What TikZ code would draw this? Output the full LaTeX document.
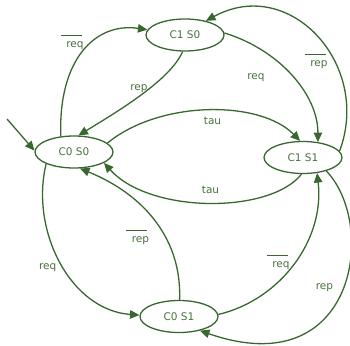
\documentclass[tikz,border=0pt]{standalone}
\usepackage{fontspec}
\setmainfont{DejaVu Sans}
\usetikzlibrary{arrows.meta,shapes.geometric}
\definecolor{ln}{RGB}{56,104,48}
\definecolor{tx}{RGB}{72,112,62}
\newcommand{\ovl}[1]{\leavevmode\rlap{\kern-5.5pt\smash{\raisebox{11.5pt}{\color{ln}\rule{21pt}{1pt}}}}#1}
\begin{document}
\begin{tikzpicture}[x=1pt,y=-1pt,
  state/.style={ellipse,draw=ln,line width=1.3pt,minimum width=78pt,minimum height=32pt,inner sep=0pt,text=tx,font=\fontsize{10.5}{12}\selectfont},
  edge/.style={draw=ln,line width=1.3pt,-{Triangle[length=9.5pt,width=8.5pt]}},
  lbl/.style={anchor=base,inner sep=0pt,text=tx,font=\fontsize{10.5}{12}\selectfont}]
\useasboundingbox (0,0) rectangle (350,345);
\node[state] (c0s0) at (74,152) {C0 S0};
\node[state] (c1s0) at (185,35) {C1 S0};
\node[state] (c1s1) at (303,157.5) {C1 S1};
\node[state] (c0s1) at (179,316.5) {C0 S1};
\coordinate (init) at (7,119);
\draw[edge] (init) -- (c0s0.178);
\draw[edge] (c0s0.130) .. controls (58,60) and (95,22) .. (c1s0.172);
\draw[edge] (c1s0.262) .. controls (170,80) and (120,110) .. (c0s0.75);
\draw[edge] (c1s0.3) .. controls (280,50) and (318,95) .. (c1s1.46);
\draw[edge] (c1s1.10) .. controls (372,65) and (290,-25) .. (c1s0.34);
\draw[edge] (c0s0.15) .. controls (160,100) and (260,100) .. (c1s1.100);
\draw[edge] (c1s1.265) .. controls (270,214) and (150,214) .. (c0s0.340);
\draw[edge] (c0s0.203) .. controls (30,230) and (70,310) .. (c0s1.178);
\draw[edge] (c0s1.88) .. controls (182,240) and (145,195) .. (c0s0.290);
\draw[edge] (c0s1.3) .. controls (280,300) and (325,240) .. (c1s1.312);
\draw[edge] (c1s1.330) .. controls (378,225) and (356,385) .. (c0s1.326);
\node[lbl] (l1) at (75,48) {\ovl{req}};
\node[lbl] (l2) at (139,90) {rep};
\node[lbl] (l3) at (256,79.5) {req};
\node[lbl] (l4) at (319,66) {\ovl{rep}};
\node[lbl] (l5) at (212.5,124.5) {tau};
\node[lbl] (l6) at (210.5,193) {tau};
\node[lbl] (l7) at (140.5,242) {\ovl{rep}};
\node[lbl] (l8) at (47.7,269) {req};
\node[lbl] (l9) at (281,267) {\ovl{req}};
\node[lbl] (l10) at (324.5,289) {rep};
\end{tikzpicture}
\end{document}
